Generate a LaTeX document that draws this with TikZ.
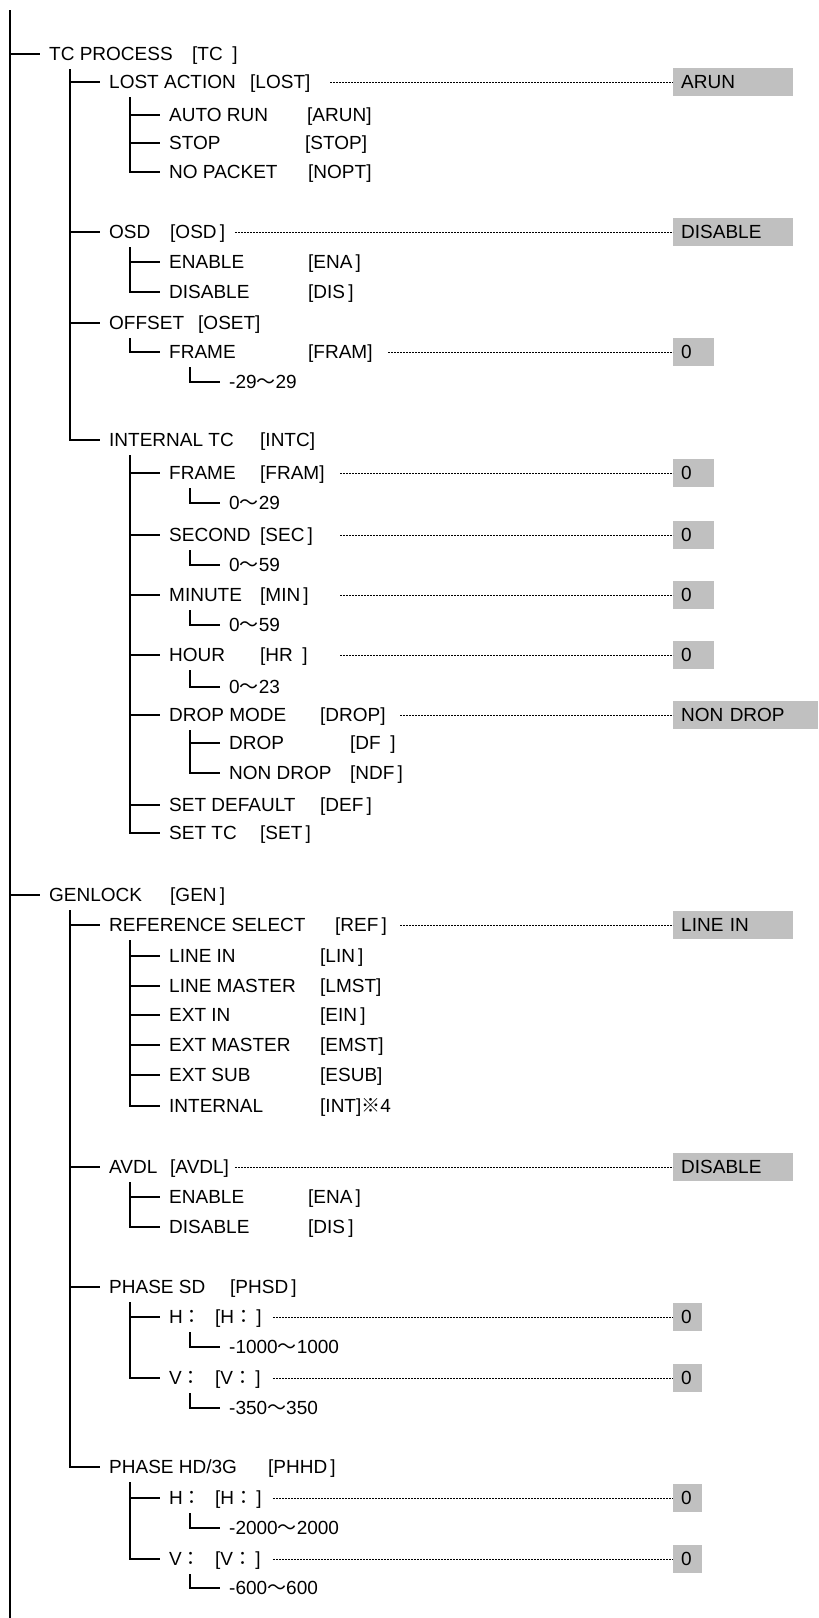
\documentclass[tikz,border=0pt]{standalone}
\usepackage{fontspec}
\setmainfont{Liberation Sans}
\newfontfamily\jpfont{Noto Sans CJK JP}
\newcommand{\wave}{{\jpfont ～}}
\newcommand{\kome}{{\jpfont ※}}
\newcommand{\fcol}{{\jpfont ：}}
\definecolor{boxgray}{RGB}{192,192,192}

\begin{document}
\begin{tikzpicture}
[x=1pt,y=-1pt,font=\fontsize{19}{23}\selectfont,
  itemtext/.style={anchor=west,inner xsep=9pt,inner ysep=0pt,text height=13.6pt,text depth=0pt},%
  codetext/.style={anchor=west,inner sep=0pt,text height=13.6pt,text depth=0pt},%
  valbox/.style={anchor=west,fill=boxgray,inner xsep=8pt,inner ysep=0pt,minimum height=28pt,
    text height=13.6pt,text depth=0pt,align=left},%
  treeline/.style={line width=1.3pt},%
  dotline/.style={line width=1pt,dash pattern=on 2pt off 1pt}]
\useasboundingbox (0,0) rectangle (819,1618);
%% menu items
\foreach \nm/\x/\y/\txt in {tc/40/54/TC PROCESS,
  lost/100/82/LOST ACTION, arun/160/115/AUTO RUN, stop/160/143/STOP,
  nopt/160/172/NO PACKET, osd/100/232/OSD, ena/160/262/ENABLE,
  dis/160/292/DISABLE, oset/100/323/OFFSET, ofram/160/352/FRAME,
  orng/220/382/-29\wave29, intc/100/440/INTERNAL TC,
  fram/160/473/FRAME, framr/220/503/0\wave29, sec/160/535/SECOND,
  secr/220/565/0\wave59, min/160/595/MINUTE, minr/220/625/0\wave59,
  hr/160/655/HOUR, hrr/220/687/0\wave23, drop/160/715/DROP MODE,
  df/220/743/DROP, ndf/220/773/NON DROP, def/160/805/SET DEFAULT,
  set/160/833/SET TC,
  gen/40/895/GENLOCK, ref/100/925/REFERENCE SELECT,
  lin/160/956/LINE IN, lmst/160/986/LINE MASTER, ein/160/1015/EXT IN,
  emst/160/1045/EXT MASTER, esub/160/1075/EXT SUB, int/160/1106/INTERNAL,
  avdl/100/1167/AVDL, ena2/160/1197/ENABLE, dis2/160/1227/DISABLE,
  phsd/100/1287/PHASE SD, sdh/160/1317/H\fcol, sdhr/220/1347/-1000\wave1000,
  sdv/160/1378/V\fcol, sdvr/220/1408/-350\wave350,
  phhd/100/1467/{PHASE HD/3G}, hdh/160/1498/H\fcol,
  hdhr/220/1528/-2000\wave2000, hdv/160/1559/V\fcol, hdvr/220/1588/-600\wave600}
{
  \node[itemtext] (\nm) at (\x,\y) {\txt};
}
%% codes in brackets
\foreach \nm/\cx/\code in {tc/192/[TC\enspace], lost/250/[LOST],
  arun/307/[ARUN], stop/305/[STOP], nopt/308/[NOPT], osd/170/[OSD\,],
  ena/308/[ENA\,], dis/308/[DIS\,], oset/198/[OSET], ofram/308/[FRAM],
  intc/260/[INTC], fram/260/[FRAM], sec/260/[SEC\,], min/260/[MIN\,],
  hr/260/[HR\enspace], drop/320/[DROP], df/350/[DF\enspace], ndf/350/[NDF\,],
  def/320/[DEF\,], set/260/[SET\,],
  gen/170/[GEN\,], ref/335/[REF\,], lin/320/[LIN\,], lmst/320/[LMST],
  ein/320/[EIN\,], emst/320/[EMST], esub/320/[ESUB], int/320/[INT]\kome4,
  avdl/170/[AVDL], ena2/308/[ENA\,], dis2/308/[DIS\,], phsd/230/[PHSD\,],
  sdh/215/[H\fcol\,], sdv/215/[V\fcol\,], phhd/268/[PHHD\,],
  hdh/215/[H\fcol\,], hdv/215/[V\fcol\,]}
{
  \node[codetext] (\nm-c) at (\nm.center -| \cx,0) {\code};
}
%% default values
\foreach \nm/\dx/\tw/\val in {lost/330/104/ARUN, osd/235/104/DISABLE,
  ofram/388/25/0, fram/340/25/0, sec/340/25/0, min/340/25/0, hr/340/25/0,
  drop/400/129/NON DROP, ref/400/104/LINE IN, avdl/235/104/DISABLE,
  sdh/273/13/0, sdv/273/13/0, hdh/273/13/0, hdv/273/13/0}
{
  \node[valbox,text width=\tw pt] (\nm-v) at (\nm.center -| 673,0) {\val};
  \coordinate (\nm-d) at (\nm.center -| \dx,0);
  \draw[dotline] (\nm-d) -- (\nm-v);
}
%% tree lines
\coordinate (top) at (10,10);
\coordinate (bot) at (10,1618);
\draw[treeline] (top) -- (bot);
\foreach \kid in {tc,gen}
  \draw[treeline] (top) |- (\kid);
\foreach \up/\kids in {tc/{lost,osd,oset,intc}, lost/{arun,stop,nopt},
  osd/{ena,dis}, oset/{ofram}, ofram/{orng},
  intc/{fram,sec,min,hr,drop,def,set}, fram/{framr}, sec/{secr},
  min/{minr}, hr/{hrr}, drop/{df,ndf},
  gen/{ref,avdl,phsd,phhd}, ref/{lin,lmst,ein,emst,esub,int},
  avdl/{ena2,dis2}, phsd/{sdh,sdv}, sdh/{sdhr}, sdv/{sdvr},
  phhd/{hdh,hdv}, hdh/{hdhr}, hdv/{hdvr}}
{
  \coordinate (\up-s) at ([shift={(30pt,-15pt)}]\up.west);
  \foreach \kid in \kids
    \draw[treeline] (\up-s) |- (\kid);
}
\end{tikzpicture}
\end{document}
